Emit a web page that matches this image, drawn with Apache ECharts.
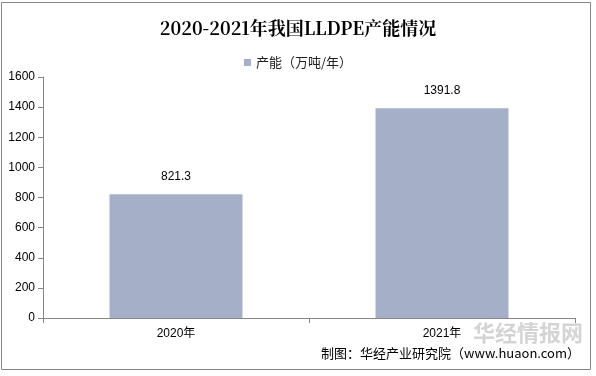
<!DOCTYPE html>
<html><head><meta charset="utf-8">
<script src="https://cdn.jsdelivr.net/npm/echarts@6/dist/echarts.min.js"></script>
<style>html,body{margin:0;padding:0;background:#fff}#c{width:596px;height:376px}</style>
</head><body><div id="c"></div>
<script>
const categories = ['2020年', '2021年'];
const values = [821.3, 1391.8];
const seriesName = '产能（万吨/年）';
const chart = echarts.init(document.getElementById('c'));
chart.setOption({
  animation: false,
  backgroundColor: '#fff',
  title: {
    text: '2020-2021年我国LLDPE产能情况', left: 'center', top: 14,
    textStyle: {fontFamily: 'Noto Serif CJK SC, DejaVu Serif, serif', fontSize: 18, fontWeight: 'bold', color: '#000'}
  },
  legend: {
    top: 51, left: 'center', itemWidth: 7, itemHeight: 7, itemGap: 4,
    textStyle: {fontSize: 13, color: '#222', fontFamily: 'Noto Sans CJK SC, sans-serif'},
    data: [{name: seriesName, icon: 'rect'}]
  },
  grid: {left: 43, right: 21, top: 77, bottom: 58, containLabel: false},
  xAxis: {
    type: 'category', data: categories,
    axisLine: {lineStyle: {color: '#868686'}},
    axisTick: {show: true, length: 5, lineStyle: {color: '#868686'}},
    axisLabel: {color: '#000', fontSize: 12, margin: 10, fontFamily: 'Liberation Sans, Noto Sans CJK SC, sans-serif'}
  },
  yAxis: {
    type: 'value', min: 0, max: 1600, interval: 200,
    axisLine: {show: true, lineStyle: {color: '#868686'}},
    axisTick: {show: true, length: 5, lineStyle: {color: '#868686'}},
    splitLine: {show: false},
    axisLabel: {color: '#000', fontSize: 12, margin: 8, fontFamily: 'Liberation Sans, sans-serif', formatter: v => String(v)}
  },
  series: [{
    name: seriesName, type: 'bar', data: values, barWidth: '50%',
    itemStyle: {color: '#a5b0c8'},
    label: {show: true, position: 'top', distance: 12, color: '#000', fontSize: 12, fontFamily: 'Liberation Sans, sans-serif'}
  }],
  graphic: [
    {type: 'rect', shape: {x: 1.5, y: 2.5, width: 589, height: 367}, style: {fill: 'none', stroke: '#868686', lineWidth: 1}, silent: true},
    {type: 'text', left: 473, top: 322, style: {text: '华经情报网', fontSize: 22, fontWeight: 'bold', fill: 'rgba(160,160,160,0.45)', fontFamily: 'Noto Sans CJK SC, sans-serif'}},
    {type: 'text', right: 16, top: 347, style: {text: '制图：华经产业研究院（www.huaon.com）', fontSize: 13, fill: '#000', fontFamily: 'Noto Sans CJK SC, sans-serif'}}
  ]
});
</script></body></html>
